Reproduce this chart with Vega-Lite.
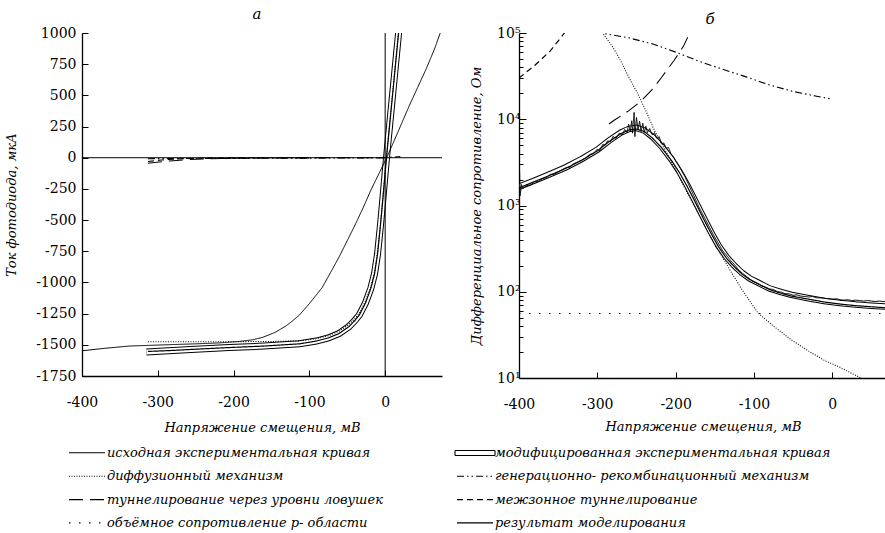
{
  "$schema": "https://vega.github.io/schema/vega-lite/v6.json",
  "background": "white",
  "padding": {"left": 5, "top": 7, "right": 0, "bottom": 0},
  "config": {
    "view": {"stroke": null},
    "font": "DejaVu Serif",
    "axis": {"labelFont": "DejaVu Serif", "labelFontSize": 14, "labelColor": "black", "titleFont": "DejaVu Serif", "titleFontStyle": "italic", "titleFontWeight": "normal", "titleFontSize": 13, "titleColor": "black", "domainColor": "black", "domainWidth": 1.3, "tickColor": "black", "tickWidth": 1, "grid": false, "labelFlush": false, "labelOverlap": false},
    "title": {"font": "DejaVu Serif", "fontStyle": "italic", "fontWeight": "normal", "fontSize": 15, "color": "black", "frame": "group"},
    "concat": {"spacing": 27}
  },
  "datasets": {
    "iv": [
      {"s":"исходная экспериментальная кривая","v":-400,"i":-1548},{"s":"исходная экспериментальная кривая","v":-370,"i":-1528},{"s":"исходная экспериментальная кривая","v":-338,"i":-1510},{"s":"исходная экспериментальная кривая","v":-300,"i":-1502},{"s":"исходная экспериментальная кривая","v":-250,"i":-1492},{"s":"исходная экспериментальная кривая","v":-220,"i":-1485},{"s":"исходная экспериментальная кривая","v":-193,"i":-1473},{"s":"исходная экспериментальная кривая","v":-175,"i":-1460},{"s":"исходная экспериментальная кривая","v":-162,"i":-1441},{"s":"исходная экспериментальная кривая","v":-145,"i":-1400},{"s":"исходная экспериментальная кривая","v":-130,"i":-1345},{"s":"исходная экспериментальная кривая","v":-122,"i":-1307},{"s":"исходная экспериментальная кривая","v":-113,"i":-1260},{"s":"исходная экспериментальная кривая","v":-100,"i":-1170},{"s":"исходная экспериментальная кривая","v":-83,"i":-1040},{"s":"исходная экспериментальная кривая","v":-72,"i":-920},{"s":"исходная экспериментальная кривая","v":-61,"i":-798},{"s":"исходная экспериментальная кривая","v":-50,"i":-665},{"s":"исходная экспериментальная кривая","v":-39,"i":-530},{"s":"исходная экспериментальная кривая","v":-29,"i":-400},{"s":"исходная экспериментальная кривая","v":-19,"i":-262},{"s":"исходная экспериментальная кривая","v":-8,"i":-125},{"s":"исходная экспериментальная кривая","v":2,"i":0},{"s":"исходная экспериментальная кривая","v":10,"i":110},{"s":"исходная экспериментальная кривая","v":20,"i":250},{"s":"исходная экспериментальная кривая","v":32,"i":420},{"s":"исходная экспериментальная кривая","v":43,"i":565},{"s":"исходная экспериментальная кривая","v":54,"i":710},{"s":"исходная экспериментальная кривая","v":65,"i":870},{"s":"исходная экспериментальная кривая","v":75,"i":1040},

      {"s":"модифицированная экспериментальная кривая","v":-315,"i":-1558},{"s":"модифицированная экспериментальная кривая","v":-280,"i":-1545},{"s":"модифицированная экспериментальная кривая","v":-250,"i":-1535},{"s":"модифицированная экспериментальная кривая","v":-206,"i":-1522},{"s":"модифицированная экспериментальная кривая","v":-160,"i":-1510},{"s":"модифицированная экспериментальная кривая","v":-113,"i":-1492},{"s":"модифицированная экспериментальная кривая","v":-91,"i":-1470},{"s":"модифицированная экспериментальная кривая","v":-75,"i":-1445},{"s":"модифицированная экспериментальная кривая","v":-61,"i":-1410},{"s":"модифицированная экспериментальная кривая","v":-48,"i":-1355},{"s":"модифицированная экспериментальная кривая","v":-40,"i":-1305},{"s":"модифицированная экспериментальная кривая","v":-34,"i":-1260},{"s":"модифицированная экспериментальная кривая","v":-26,"i":-1165},{"s":"модифицированная экспериментальная кривая","v":-19,"i":-1050},{"s":"модифицированная экспериментальная кривая","v":-14,"i":-930},{"s":"модифицированная экспериментальная кривая","v":-10,"i":-770},{"s":"модифицированная экспериментальная кривая","v":-6,"i":-530},{"s":"модифицированная экспериментальная кривая","v":-3,"i":-330},{"s":"модифицированная экспериментальная кривая","v":0,"i":-120},{"s":"модифицированная экспериментальная кривая","v":3,"i":80},{"s":"модифицированная экспериментальная кривая","v":7,"i":330},{"s":"модифицированная экспериментальная кривая","v":11,"i":580},{"s":"модифицированная экспериментальная кривая","v":15,"i":830},{"s":"модифицированная экспериментальная кривая","v":19,"i":1080},{"s":"модифицированная экспериментальная кривая","v":22,"i":1260},

      {"s":"результат моделирования","v":-313,"i":-1553},{"s":"результат моделирования","v":-280,"i":-1545},{"s":"результат моделирования","v":-250,"i":-1535},{"s":"результат моделирования","v":-206,"i":-1522},{"s":"результат моделирования","v":-160,"i":-1510},{"s":"результат моделирования","v":-113,"i":-1492},{"s":"результат моделирования","v":-91,"i":-1470},{"s":"результат моделирования","v":-75,"i":-1445},{"s":"результат моделирования","v":-61,"i":-1410},{"s":"результат моделирования","v":-48,"i":-1355},{"s":"результат моделирования","v":-40,"i":-1305},{"s":"результат моделирования","v":-34,"i":-1260},{"s":"результат моделирования","v":-26,"i":-1165},{"s":"результат моделирования","v":-19,"i":-1050},{"s":"результат моделирования","v":-14,"i":-930},{"s":"результат моделирования","v":-10,"i":-770},{"s":"результат моделирования","v":-6,"i":-530},{"s":"результат моделирования","v":-3,"i":-330},{"s":"результат моделирования","v":0,"i":-120},{"s":"результат моделирования","v":3,"i":80},{"s":"результат моделирования","v":7,"i":330},{"s":"результат моделирования","v":11,"i":580},{"s":"результат моделирования","v":15,"i":830},{"s":"результат моделирования","v":19,"i":1080},{"s":"результат моделирования","v":22,"i":1260},

      {"s":"диффузионный механизм","v":-313,"i":-1476},{"s":"диффузионный механизм","v":-250,"i":-1476},{"s":"диффузионный механизм","v":-200,"i":-1475},{"s":"диффузионный механизм","v":-150,"i":-1473},{"s":"диффузионный механизм","v":-113,"i":-1468},{"s":"диффузионный механизм","v":-91,"i":-1452},{"s":"диффузионный механизм","v":-75,"i":-1428},{"s":"диффузионный механизм","v":-61,"i":-1392},{"s":"диффузионный механизм","v":-48,"i":-1338},{"s":"диффузионный механизм","v":-40,"i":-1290},{"s":"диффузионный механизм","v":-34,"i":-1245},{"s":"диффузионный механизм","v":-26,"i":-1150},{"s":"диффузионный механизм","v":-19,"i":-1035},{"s":"диффузионный механизм","v":-14,"i":-915},{"s":"диффузионный механизм","v":-10,"i":-755},{"s":"диффузионный механизм","v":-6,"i":-515},{"s":"диффузионный механизм","v":-3,"i":-315},{"s":"диффузионный механизм","v":0,"i":-105},{"s":"диффузионный механизм","v":3,"i":95},{"s":"диффузионный механизм","v":7,"i":345},{"s":"диффузионный механизм","v":11,"i":595},{"s":"диффузионный механизм","v":15,"i":845},{"s":"диффузионный механизм","v":19,"i":1095},{"s":"диффузионный механизм","v":22,"i":1275},

      {"s":"генерационно- рекомбинационный механизм","v":-313,"i":-8},{"s":"генерационно- рекомбинационный механизм","v":-250,"i":-6},{"s":"генерационно- рекомбинационный механизм","v":-200,"i":-5},{"s":"генерационно- рекомбинационный механизм","v":-150,"i":-4},{"s":"генерационно- рекомбинационный механизм","v":-100,"i":-3},{"s":"генерационно- рекомбинационный механизм","v":-50,"i":-2},{"s":"генерационно- рекомбинационный механизм","v":-10,"i":-1},{"s":"генерационно- рекомбинационный механизм","v":0,"i":0},{"s":"генерационно- рекомбинационный механизм","v":10,"i":4},{"s":"генерационно- рекомбинационный механизм","v":20,"i":10},

      {"s":"туннелирование через уровни ловушек","v":-313,"i":-45},{"s":"туннелирование через уровни ловушек","v":-295,"i":-32},{"s":"туннелирование через уровни ловушек","v":-280,"i":-24},{"s":"туннелирование через уровни ловушек","v":-260,"i":-15},{"s":"туннелирование через уровни ловушек","v":-240,"i":-10},{"s":"туннелирование через уровни ловушек","v":-216,"i":-6},{"s":"туннелирование через уровни ловушек","v":-193,"i":-4},{"s":"туннелирование через уровни ловушек","v":-150,"i":-2},{"s":"туннелирование через уровни ловушек","v":-100,"i":-1},{"s":"туннелирование через уровни ловушек","v":-50,"i":0},{"s":"туннелирование через уровни ловушек","v":0,"i":0},

      {"s":"межзонное туннелирование","v":-313,"i":-30},{"s":"межзонное туннелирование","v":-295,"i":-18},{"s":"межзонное туннелирование","v":-280,"i":-11},{"s":"межзонное туннелирование","v":-260,"i":-6},{"s":"межзонное туннелирование","v":-240,"i":-3},{"s":"межзонное туннелирование","v":-200,"i":-1},{"s":"межзонное туннелирование","v":-150,"i":0},{"s":"межзонное туннелирование","v":-100,"i":0}
    ],
    "rv": [
      {"s":"исходная экспериментальная кривая","v":-400,"r":400},{"s":"исходная экспериментальная кривая","v":-399.5,"r":3000},{"s":"исходная экспериментальная кривая","v":-398.5,"r":1300},{"s":"исходная экспериментальная кривая","v":-397,"r":1750},{"s":"исходная экспериментальная кривая","v":-395,"r":1580},{"s":"исходная экспериментальная кривая","v":-390,"r":1700},{"s":"исходная экспериментальная кривая","v":-385,"r":1740},{"s":"исходная экспериментальная кривая","v":-380,"r":1880},{"s":"исходная экспериментальная кривая","v":-375,"r":1900},{"s":"исходная экспериментальная кривая","v":-370,"r":2050},{"s":"исходная экспериментальная кривая","v":-365,"r":2100},{"s":"исходная экспериментальная кривая","v":-360,"r":2300},{"s":"исходная экспериментальная кривая","v":-355,"r":2300},{"s":"исходная экспериментальная кривая","v":-350,"r":2450},{"s":"исходная экспериментальная кривая","v":-345,"r":2600},{"s":"исходная экспериментальная кривая","v":-340,"r":2750},{"s":"исходная экспериментальная кривая","v":-335,"r":2780},{"s":"исходная экспериментальная кривая","v":-330,"r":3050},{"s":"исходная экспериментальная кривая","v":-325,"r":3200},{"s":"исходная экспериментальная кривая","v":-320,"r":3350},{"s":"исходная экспериментальная кривая","v":-315,"r":3550},{"s":"исходная экспериментальная кривая","v":-310,"r":3900},{"s":"исходная экспериментальная кривая","v":-305,"r":4000},{"s":"исходная экспериментальная кривая","v":-300,"r":4500},{"s":"исходная экспериментальная кривая","v":-297,"r":4300},{"s":"исходная экспериментальная кривая","v":-293,"r":5100},{"s":"исходная экспериментальная кривая","v":-290,"r":5000},{"s":"исходная экспериментальная кривая","v":-287,"r":5600},{"s":"исходная экспериментальная кривая","v":-283,"r":5500},{"s":"исходная экспериментальная кривая","v":-280,"r":6300},{"s":"исходная экспериментальная кривая","v":-276,"r":6000},{"s":"исходная экспериментальная кривая","v":-272,"r":6900},{"s":"исходная экспериментальная кривая","v":-268,"r":6600},{"s":"исходная экспериментальная кривая","v":-265,"r":7600},{"s":"исходная экспериментальная кривая","v":-262,"r":7000},{"s":"исходная экспериментальная кривая","v":-260,"r":8800},{"s":"исходная экспериментальная кривая","v":-258,"r":7300},{"s":"исходная экспериментальная кривая","v":-256,"r":9600},{"s":"исходная экспериментальная кривая","v":-255,"r":6900},{"s":"исходная экспериментальная кривая","v":-253,"r":12000},{"s":"исходная экспериментальная кривая","v":-252,"r":6300},{"s":"исходная экспериментальная кривая","v":-250,"r":10500},{"s":"исходная экспериментальная кривая","v":-248,"r":7500},{"s":"исходная экспериментальная кривая","v":-246,"r":9500},{"s":"исходная экспериментальная кривая","v":-244,"r":7200},{"s":"исходная экспериментальная кривая","v":-242,"r":9000},{"s":"исходная экспериментальная кривая","v":-240,"r":7000},{"s":"исходная экспериментальная кривая","v":-238,"r":8300},{"s":"исходная экспериментальная кривая","v":-236,"r":7000},{"s":"исходная экспериментальная кривая","v":-233,"r":7800},{"s":"исходная экспериментальная кривая","v":-230,"r":6600},{"s":"исходная экспериментальная кривая","v":-227,"r":7000},{"s":"исходная экспериментальная кривая","v":-224,"r":6000},{"s":"исходная экспериментальная кривая","v":-221,"r":6300},{"s":"исходная экспериментальная кривая","v":-218,"r":5200},{"s":"исходная экспериментальная кривая","v":-215,"r":5300},{"s":"исходная экспериментальная кривая","v":-212,"r":4600},{"s":"исходная экспериментальная кривая","v":-209,"r":4700},{"s":"исходная экспериментальная кривая","v":-206,"r":4000},{"s":"исходная экспериментальная кривая","v":-203,"r":3700},{"s":"исходная экспериментальная кривая","v":-200,"r":3300},{"s":"исходная экспериментальная кривая","v":-196,"r":2900},{"s":"исходная экспериментальная кривая","v":-192,"r":2500},{"s":"исходная экспериментальная кривая","v":-188,"r":2150},{"s":"исходная экспериментальная кривая","v":-184,"r":1800},{"s":"исходная экспериментальная кривая","v":-180,"r":1500},{"s":"исходная экспериментальная кривая","v":-175,"r":1200},{"s":"исходная экспериментальная кривая","v":-170,"r":950},{"s":"исходная экспериментальная кривая","v":-165,"r":780},{"s":"исходная экспериментальная кривая","v":-160,"r":640},{"s":"исходная экспериментальная кривая","v":-155,"r":520},{"s":"исходная экспериментальная кривая","v":-150,"r":430},{"s":"исходная экспериментальная кривая","v":-145,"r":360},{"s":"исходная экспериментальная кривая","v":-140,"r":300},{"s":"исходная экспериментальная кривая","v":-135,"r":265},{"s":"исходная экспериментальная кривая","v":-130,"r":232},{"s":"исходная экспериментальная кривая","v":-125,"r":207},{"s":"исходная экспериментальная кривая","v":-120,"r":182},{"s":"исходная экспериментальная кривая","v":-115,"r":165},{"s":"исходная экспериментальная кривая","v":-110,"r":152},{"s":"исходная экспериментальная кривая","v":-105,"r":140},{"s":"исходная экспериментальная кривая","v":-100,"r":131},{"s":"исходная экспериментальная кривая","v":-95,"r":125},{"s":"исходная экспериментальная кривая","v":-90,"r":117},{"s":"исходная экспериментальная кривая","v":-85,"r":113},{"s":"исходная экспериментальная кривая","v":-80,"r":108},{"s":"исходная экспериментальная кривая","v":-75,"r":106},{"s":"исходная экспериментальная кривая","v":-70,"r":100},{"s":"исходная экспериментальная кривая","v":-65,"r":99},{"s":"исходная экспериментальная кривая","v":-60,"r":95},{"s":"исходная экспериментальная кривая","v":-55,"r":95},{"s":"исходная экспериментальная кривая","v":-50,"r":91},{"s":"исходная экспериментальная кривая","v":-45,"r":92},{"s":"исходная экспериментальная кривая","v":-40,"r":89},{"s":"исходная экспериментальная кривая","v":-35,"r":88},{"s":"исходная экспериментальная кривая","v":-30,"r":87},{"s":"исходная экспериментальная кривая","v":-25,"r":88},{"s":"исходная экспериментальная кривая","v":-20,"r":85},{"s":"исходная экспериментальная кривая","v":-15,"r":85},{"s":"исходная экспериментальная кривая","v":-10,"r":84},{"s":"исходная экспериментальная кривая","v":-5,"r":83},{"s":"исходная экспериментальная кривая","v":0,"r":82},{"s":"исходная экспериментальная кривая","v":5,"r":83},{"s":"исходная экспериментальная кривая","v":10,"r":81},{"s":"исходная экспериментальная кривая","v":15,"r":80},{"s":"исходная экспериментальная кривая","v":20,"r":81},{"s":"исходная экспериментальная кривая","v":25,"r":79},{"s":"исходная экспериментальная кривая","v":30,"r":80},{"s":"исходная экспериментальная кривая","v":35,"r":79},{"s":"исходная экспериментальная кривая","v":40,"r":78},{"s":"исходная экспериментальная кривая","v":45,"r":79},{"s":"исходная экспериментальная кривая","v":50,"r":78},{"s":"исходная экспериментальная кривая","v":55,"r":77},{"s":"исходная экспериментальная кривая","v":60,"r":78},{"s":"исходная экспериментальная кривая","v":65,"r":77},{"s":"исходная экспериментальная кривая","v":70,"r":78},

      {"s":"модифицированная экспериментальная кривая","v":-400,"r":1650},{"s":"модифицированная экспериментальная кривая","v":-380,"r":1950},{"s":"модифицированная экспериментальная кривая","v":-360,"r":2320},{"s":"модифицированная экспериментальная кривая","v":-340,"r":2780},{"s":"модифицированная экспериментальная кривая","v":-320,"r":3450},{"s":"модифицированная экспериментальная кривая","v":-300,"r":4430},{"s":"модифицированная экспериментальная кривая","v":-285,"r":5650},{"s":"модифицированная экспериментальная кривая","v":-270,"r":7000},{"s":"модифицированная экспериментальная кривая","v":-260,"r":7700},{"s":"модифицированная экспериментальная кривая","v":-250,"r":7950},{"s":"модифицированная экспериментальная кривая","v":-240,"r":7400},{"s":"модифицированная экспериментальная кривая","v":-230,"r":6300},{"s":"модифицированная экспериментальная кривая","v":-218,"r":4850},{"s":"модифицированная экспериментальная кривая","v":-205,"r":3400},{"s":"модифицированная экспериментальная кривая","v":-195,"r":2470},{"s":"модифицированная экспериментальная кривая","v":-185,"r":1700},{"s":"модифицированная экспериментальная кривая","v":-175,"r":1130},{"s":"модифицированная экспериментальная кривая","v":-165,"r":745},{"s":"модифицированная экспериментальная кривая","v":-155,"r":495},{"s":"модифицированная экспериментальная кривая","v":-145,"r":340},{"s":"модифицированная экспериментальная кривая","v":-135,"r":253},{"s":"модифицированная экспериментальная кривая","v":-125,"r":201},{"s":"модифицированная экспериментальная кривая","v":-115,"r":165},{"s":"модифицированная экспериментальная кривая","v":-105,"r":142},{"s":"модифицированная экспериментальная кривая","v":-95,"r":128},{"s":"модифицированная экспериментальная кривая","v":-80,"r":109},{"s":"модифицированная экспериментальная кривая","v":-65,"r":99},{"s":"модифицированная экспериментальная кривая","v":-52,"r":92},{"s":"модифицированная экспериментальная кривая","v":-30,"r":84},{"s":"модифицированная экспериментальная кривая","v":-10,"r":78},{"s":"модифицированная экспериментальная кривая","v":10,"r":74},{"s":"модифицированная экспериментальная кривая","v":30,"r":71},{"s":"модифицированная экспериментальная кривая","v":50,"r":69},{"s":"модифицированная экспериментальная кривая","v":70,"r":67},

      {"s":"результат моделирования","v":-400,"r":1600},{"s":"результат моделирования","v":-380,"r":1900},{"s":"результат моделирования","v":-360,"r":2250},{"s":"результат моделирования","v":-340,"r":2700},{"s":"результат моделирования","v":-320,"r":3350},{"s":"результат моделирования","v":-300,"r":4300},{"s":"результат моделирования","v":-285,"r":5500},{"s":"результат моделирования","v":-270,"r":6800},{"s":"результат моделирования","v":-260,"r":7500},{"s":"результат моделирования","v":-250,"r":7700},{"s":"результат моделирования","v":-240,"r":7200},{"s":"результат моделирования","v":-230,"r":6100},{"s":"результат моделирования","v":-218,"r":4700},{"s":"результат моделирования","v":-205,"r":3300},{"s":"результат моделирования","v":-195,"r":2400},{"s":"результат моделирования","v":-185,"r":1650},{"s":"результат моделирования","v":-175,"r":1100},{"s":"результат моделирования","v":-165,"r":720},{"s":"результат моделирования","v":-155,"r":480},{"s":"результат моделирования","v":-145,"r":330},{"s":"результат моделирования","v":-135,"r":245},{"s":"результат моделирования","v":-125,"r":195},{"s":"результат моделирования","v":-115,"r":160},{"s":"результат моделирования","v":-105,"r":138},{"s":"результат моделирования","v":-95,"r":124},{"s":"результат моделирования","v":-80,"r":106},{"s":"результат моделирования","v":-65,"r":96},{"s":"результат моделирования","v":-52,"r":89},{"s":"результат моделирования","v":-30,"r":82},{"s":"результат моделирования","v":-10,"r":76},{"s":"результат моделирования","v":10,"r":72},{"s":"результат моделирования","v":30,"r":69},{"s":"результат моделирования","v":50,"r":67},{"s":"результат моделирования","v":70,"r":65},

      {"s":"диффузионный механизм","v":-300,"r":140000},{"s":"диффузионный механизм","v":-293,"r":100000},{"s":"диффузионный механизм","v":-280,"r":68000},{"s":"диффузионный механизм","v":-270,"r":47500},{"s":"диффузионный механизм","v":-260,"r":31000},{"s":"диффузионный механизм","v":-248,"r":19500},{"s":"диффузионный механизм","v":-237,"r":12000},{"s":"диффузионный механизм","v":-227,"r":7400},{"s":"диффузионный механизм","v":-215,"r":4700},{"s":"диффузионный механизм","v":-200,"r":2600},{"s":"диффузионный механизм","v":-190,"r":1700},{"s":"диффузионный механизм","v":-180,"r":1150},{"s":"диффузионный механизм","v":-170,"r":780},{"s":"диффузионный механизм","v":-158,"r":475},{"s":"диффузионный механизм","v":-145,"r":300},{"s":"диффузионный механизм","v":-130,"r":175},{"s":"диффузионный механизм","v":-115,"r":105},{"s":"диффузионный механизм","v":-95,"r":57},{"s":"диффузионный механизм","v":-75,"r":40},{"s":"диффузионный механизм","v":-52,"r":27.6},{"s":"диффузионный механизм","v":-30,"r":20.5},{"s":"диффузионный механизм","v":-10,"r":16},{"s":"диффузионный механизм","v":10,"r":13.3},{"s":"диффузионный механизм","v":25,"r":11.3},{"s":"диффузионный механизм","v":41,"r":9.6},{"s":"диффузионный механизм","v":55,"r":8.5},

      {"s":"генерационно- рекомбинационный механизм","v":-300,"r":115000},{"s":"генерационно- рекомбинационный механизм","v":-290,"r":98000},{"s":"генерационно- рекомбинационный механизм","v":-260,"r":88000},{"s":"генерационно- рекомбинационный механизм","v":-230,"r":75000},{"s":"генерационно- рекомбинационный механизм","v":-200,"r":60000},{"s":"генерационно- рекомбинационный механизм","v":-170,"r":47000},{"s":"генерационно- рекомбинационный механизм","v":-140,"r":38000},{"s":"генерационно- рекомбинационный механизм","v":-110,"r":31000},{"s":"генерационно- рекомбинационный механизм","v":-80,"r":25000},{"s":"генерационно- рекомбинационный механизм","v":-50,"r":21000},{"s":"генерационно- рекомбинационный механизм","v":-20,"r":18500},{"s":"генерационно- рекомбинационный механизм","v":-3,"r":17300},

      {"s":"туннелирование через уровни ловушек","v":-285,"r":8800},{"s":"туннелирование через уровни ловушек","v":-278,"r":9800},{"s":"туннелирование через уровни ловушек","v":-260,"r":12500},{"s":"туннелирование через уровни ловушек","v":-244,"r":16300},{"s":"туннелирование через уровни ловушек","v":-230,"r":22000},{"s":"туннелирование через уровни ловушек","v":-218,"r":30500},{"s":"туннелирование через уровни ловушек","v":-202,"r":48000},{"s":"туннелирование через уровни ловушек","v":-190,"r":70000},{"s":"туннелирование через уровни ловушек","v":-182,"r":100000},{"s":"туннелирование через уровни ловушек","v":-178,"r":120000},

      {"s":"межзонное туннелирование","v":-400,"r":30000},{"s":"межзонное туннелирование","v":-380,"r":42000},{"s":"межзонное туннелирование","v":-360,"r":62000},{"s":"межзонное туннелирование","v":-342,"r":100000},{"s":"межзонное туннелирование","v":-338,"r":110000},

      {"s":"объёмное сопротивление р- области","v":-400,"r":56},{"s":"объёмное сопротивление р- области","v":70,"r":56}
    ]
  },
  "hconcat": [
    {
      "width": 360,
      "height": 343,
      "title": {"text": "а", "offset": 4, "dx": -5},
      "layer": [
        {
          "data": {"name": "iv"},
          "transform": [{"filter": "datum.s === 'модифицированная экспериментальная кривая'"}],
          "mark": {"type": "line", "color": "black", "strokeWidth": 7, "clip": true},
          "encoding": {
            "x": {"field": "v", "type": "quantitative", "scale": {"domain": [-400, 75], "nice": false},
                  "axis": {"title": "Напряжение смещения, мВ", "values": [-400, -300, -200, -100, 0], "labelExpr": "datum.value + ''", "tickSize": -6, "labelPadding": 25, "titlePadding": 12}},
            "y": {"field": "i", "type": "quantitative", "scale": {"domain": [-1750, 1000], "nice": false},
                  "axis": {"title": "Ток фотодиода, мкА", "values": [-1750, -1500, -1250, -1000, -750, -500, -250, 0, 250, 500, 750, 1000], "tickCount": 40, "labelExpr": "datum.value + ''", "labelOverlap": false,
                           "tickSize": -6, "labelPadding": 12, "titlePadding": 17}}
          }
        },
        {
          "data": {"name": "iv"},
          "transform": [{"filter": "datum.s === 'модифицированная экспериментальная кривая'"}],
          "mark": {"type": "line", "color": "white", "strokeWidth": 5, "clip": true},
          "encoding": {
            "x": {"field": "v", "type": "quantitative"},
            "y": {"field": "i", "type": "quantitative"}
          }
        },
        {
          "data": {"values": [{"z": 0}]},
          "mark": {"type": "rule", "color": "black", "strokeWidth": 1},
          "encoding": {"y": {"field": "z", "type": "quantitative"}}
        },
        {
          "data": {"values": [{"z": 0}]},
          "mark": {"type": "rule", "color": "black", "strokeWidth": 1},
          "encoding": {"x": {"field": "z", "type": "quantitative"}}
        },
        {
          "data": {"name": "iv"},
          "transform": [{"filter": "datum.s !== 'модифицированная экспериментальная кривая'"}],
          "mark": {"type": "line", "color": "black", "clip": true},
          "encoding": {
            "x": {"field": "v", "type": "quantitative"},
            "y": {"field": "i", "type": "quantitative"},
            "detail": {"field": "s"},
            "strokeDash": {"field": "s", "type": "nominal",
              "scale": {"domain": ["исходная экспериментальная кривая", "диффузионный механизм", "туннелирование через уровни ловушек", "объёмное сопротивление р- области", "модифицированная экспериментальная кривая", "генерационно- рекомбинационный механизм", "межзонное туннелирование", "результат моделирования"],
                        "range": [[1, 0], [1, 1.5], [14, 7], [1.5, 8.5], [1, 0], [7, 3, 1.5, 3, 1.5, 3], [6, 4], [1, 0]]},
              "legend": {"title": null, "orient": "none", "legendX": -6, "legendY": 409, "columns": 2, "columnPadding": 69, "rowPadding": 5.3, "symbolSize": 400, "symbolType": "stroke", "symbolStrokeColor": "black", "labelFont": "DejaVu Serif", "labelFontStyle": "italic", "labelFontSize": 13, "labelColor": "black", "labelOffset": 9, "labelLimit": 500,
                "encode": {"symbols": {"update": {
                  "shape": {"signal": "datum.value === 'модифицированная экспериментальная кривая' ? 'M-2,-0.25H2V0.25H-2Z' : 'M-1.8,0H1.8'"},
                  "strokeWidth": {"signal": "datum.value === 'результат моделирования' ? 3 : datum.value === 'туннелирование через уровни ловушек' ? 2.2 : 1.2"},
                  "stroke": {"value": "black"},
                  "fill": {"value": "white"}
                }}}}},
            "strokeWidth": {"field": "s", "type": "nominal",
              "scale": {"domain": ["исходная экспериментальная кривая", "диффузионный механизм", "туннелирование через уровни ловушек", "объёмное сопротивление р- области", "модифицированная экспериментальная кривая", "генерационно- рекомбинационный механизм", "межзонное туннелирование", "результат моделирования"],
                        "range": [1, 1.2, 2, 1.5, 1, 1.5, 1.5, 2.8]},
              "legend": null}
          }
        }
      ]
    },
    {
      "width": 368,
      "height": 345,
      "title": {"text": "б", "offset": 2, "dx": 7, "dy": 3},
      "layer": [
        {
          "data": {"name": "rv"},
          "transform": [{"filter": "datum.s === 'модифицированная экспериментальная кривая'"}],
          "mark": {"type": "line", "color": "black", "strokeWidth": 6.5, "clip": true},
          "encoding": {
            "x": {"field": "v", "type": "quantitative", "scale": {"domain": [-400, 70], "nice": false},
                  "axis": {"title": "Напряжение смещения, мВ", "values": [-400, -300, -200, -100, 0], "labelExpr": "datum.value + ''", "tickSize": -6, "labelPadding": 25, "titlePadding": 9}},
            "y": {"field": "r", "type": "quantitative", "scale": {"type": "log", "domain": [10, 100000], "nice": false},
                  "axis": {"title": "Дифференциальное сопротивление, Ом", "values": [10, 20, 30, 40, 50, 60, 70, 80, 90, 100, 200, 300, 400, 500, 600, 700, 800, 900, 1000, 2000, 3000, 4000, 5000, 6000, 7000, 8000, 9000, 10000, 20000, 30000, 40000, 50000, 60000, 70000, 80000, 90000, 100000], "tickCount": 100,
                           "labelExpr": "abs(log(datum.value)/LN10 - round(log(datum.value)/LN10)) < 0.001 ? '10' + ['⁰','¹','²','³','⁴','⁵'][round(log(datum.value)/LN10)] : ''",
                           "tickSize": {"condition": {"test": "abs(log(datum.value)/LN10 - round(log(datum.value)/LN10)) < 0.001", "value": -7}, "value": -4},
                           "labelPadding": 6, "titlePadding": 13, "labelFontSize": 14}}
          }
        },
        {
          "data": {"name": "rv"},
          "transform": [{"filter": "datum.s === 'модифицированная экспериментальная кривая'"}],
          "mark": {"type": "line", "color": "white", "strokeWidth": 4.5, "clip": true},
          "encoding": {
            "x": {"field": "v", "type": "quantitative"},
            "y": {"field": "r", "type": "quantitative"}
          }
        },
        {
          "data": {"name": "rv"},
          "transform": [{"filter": "datum.s !== 'модифицированная экспериментальная кривая'"}],
          "mark": {"type": "line", "color": "black", "clip": true},
          "encoding": {
            "x": {"field": "v", "type": "quantitative"},
            "y": {"field": "r", "type": "quantitative"},
            "detail": {"field": "s"},
            "strokeDash": {"field": "s", "type": "nominal",
              "scale": {"domain": ["исходная экспериментальная кривая", "диффузионный механизм", "туннелирование через уровни ловушек", "объёмное сопротивление р- области", "модифицированная экспериментальная кривая", "генерационно- рекомбинационный механизм", "межзонное туннелирование", "результат моделирования"],
                        "range": [[1, 0], [1, 1.5], [14, 7], [1.5, 8.5], [1, 0], [7, 3, 1.5, 3, 1.5, 3], [6, 4], [1, 0]]}},
            "strokeWidth": {"field": "s", "type": "nominal",
              "scale": {"domain": ["исходная экспериментальная кривая", "диффузионный механизм", "туннелирование через уровни ловушек", "объёмное сопротивление р- области", "модифицированная экспериментальная кривая", "генерационно- рекомбинационный механизм", "межзонное туннелирование", "результат моделирования"],
                        "range": [1, 1.2, 2, 1.5, 1, 1.5, 1.5, 2.8]},
              "legend": null}
          }
        }
      ]
    }
  ],
  "resolve": {"scale": {"strokeDash": "shared", "strokeWidth": "shared"}, "legend": {"strokeDash": "shared", "strokeWidth": "shared"}}
}
